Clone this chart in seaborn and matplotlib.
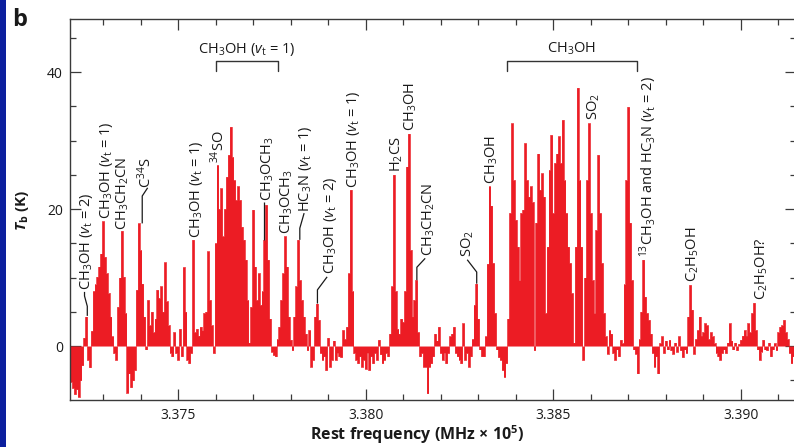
import numpy as np
import pandas as pd
import matplotlib
matplotlib.use("Agg")
import matplotlib.pyplot as plt
from matplotlib.patches import Rectangle
from matplotlib.ticker import MultipleLocator, FormatStrFormatter
import seaborn as sns

# ---------------------------------------------------------------------------
# Spectrum: brightness temperature (K) per channel, channel grid in MHz x 1e5
# ---------------------------------------------------------------------------
freq_start = 3.37210
chan_width = 0.00005

tb_seg_a = [-4.0, -5.2, -6.1, -7.0, -6.3, -7.4, -5.0, -2.8, 1.2, 4.3, -2.0, -3.1, 2.2, 8.0, 9.0, 10.1,
            11.6, 13.5, 18.2, 13.0, 10.6, 7.7, 4.3, 1.4, -1.0, -2.0, 5.7, 10.0, 16.8, 10.1, 4.8, -6.8,
            -4.0, -6.0, -5.0, -3.5, 8.2, 17.9, 14.0, 9.1, 4.3, -0.5, 6.7, 3.0, 5.0, 2.0, 4.0, 8.2,
            7.0, 8.7, 5.0, 12.2, 6.5, 3.0, -1.0, -1.5, 2.0, -1.0, -2.0, 2.5, -1.5, 11.5, 5.0, -2.0]
tb_seg_b = [-2.5, -1.0, 15.5, 2.0, 2.5, 1.5, 2.8, 2.3, 4.8, 5.0, 13.8, 6.7, 3.0, -1.0, 15.0, 26.4,
            20.0, 23.0, 16.0, 20.0, 24.7, 27.9, 32.0, 27.6, 24.2, 21.3, 23.3, 21.3, 17.4, 15.5, 12.6, 6.7,
            0.5, 5.7, 19.9, 11.6, 6.7, 10.6, 6.0, 8.0, 15.5, 20.6, 12.6, 4.0, -0.8, -1.3, -1.5, 1.0,
            2.8, 6.7, 10.6, 16.0, 11.6, 4.3, 0.9, -0.6, 4.3, 8.7, 15.5, 9.6, 6.7, 4.3, 1.8, -0.6]
tb_seg_c = [2.3, -3.0, -2.0, 4.3, 6.2, 3.8, -1.0, -2.0, -1.5, -3.5, 1.2, -3.0, -2.0, 0.8, -2.0, -1.0,
            -1.5, -1.6, 2.3, 1.0, 2.8, 10.6, 22.8, 8.0, -1.0, -2.0, -2.5, -1.5, -3.0, -2.0, -3.3, -1.0,
            -3.5, -1.5, -2.5, -1.0, -2.0, 0.9, -1.2, -2.5, -2.0, -1.0, -1.5, 1.8, 8.7, 25.0, 8.0, 2.5,
            1.8, 4.0, 3.5, 8.0, 26.2, 31.0, 14.0, 4.3, 6.7, 9.6, 2.0, -1.5, -1.0, -3.0, -3.0, -6.9]
tb_seg_d = [-3.0, -2.5, -1.5, 1.8, 0.8, 2.8, -1.0, -2.0, -1.0, -2.5, -1.0, 1.4, 1.8, 2.8, -1.0, -1.5,
            -2.0, -2.5, 3.3, -2.0, -1.0, -3.0, -1.5, 1.0, 6.0, 9.1, 4.0, -0.5, -1.5, -1.5, 1.4, 12.0,
            23.3, 20.5, 12.1, 4.8, -0.5, -1.6, -2.0, -3.5, -4.5, -2.5, 4.0, 19.4, 32.5, 24.2, 18.4, 14.5,
            9.6, 19.4, 19.9, 29.6, 24.2, 21.8, 23.3, 21.0, -0.6, 18.0, 28.1, 22.8, 25.2, 21.8, 4.8, 14.5]
tb_seg_e = [25.7, 30.8, 19.4, 26.7, 28.1, 30.6, 26.7, 33.0, 24.2, 19.4, 14.5, 12.1, 7.7, 0.5, 14.5, 37.7,
            24.2, 14.5, -2.0, 10.0, 24.2, 32.5, 19.4, 9.6, 4.8, 16.9, 27.9, 19.4, 12.1, 4.8, 1.4, -1.1,
            2.3, 1.8, -1.0, -2.0, -0.5, -1.5, 0.9, 0.4, 9.0, 24.2, 34.9, 18.0, 9.6, -0.5, -1.1, -4.0,
            1.0, 5.0, 12.6, 7.2, 4.8, 3.8, 1.8, -1.0, -3.0, -1.5, -4.0, 0.4, 1.4, -1.0, 0.8, -0.5]
tb_seg_f = [0.9, -0.6, -1.1, 0.5, -0.8, 1.4, -0.6, -1.6, -0.5, -1.0, 4.3, 8.9, 5.3, -1.1, 1.0, 2.3,
            4.3, 1.5, 2.0, 3.3, 3.0, 1.0, 2.0, 1.4, 0.4, -1.0, -1.5, -2.0, -1.0, -0.5, -1.0, 0.5,
            3.3, 0.8, -0.5, 0.5, -0.6, 0.3, 0.9, 1.5, 2.3, 1.5, 3.3, 2.0, 4.8, 6.3, 2.3, -0.5,
            -2.0, -0.8, 0.9, -0.5, -0.6, 0.5, -1.5, -0.5, 0.4, -0.6, 2.0, 2.8, 3.0, 3.8, 2.0, 1.0,
            -1.0, -2.5, -1.5, -1.0]

# ---------------------------------------------------------------------------
# Line identifications (rotated labels): text, frequency, base height (K)
# ---------------------------------------------------------------------------
line_labels = [r"CH$_3$OH ($v_\mathrm{t}$ = 2)", r"CH$_3$OH ($v_\mathrm{t}$ = 1)", r"CH$_3$CH$_2$CN",
               r"C$^{34}$S", r"CH$_3$OH ($v_\mathrm{t}$ = 1)", r"$^{34}$SO", r"CH$_3$OCH$_3$",
               r"CH$_3$OCH$_3$", r"HC$_3$N ($v_\mathrm{t}$ = 1)", r"CH$_3$OH ($v_\mathrm{t}$ = 2)",
               r"CH$_3$OH ($v_\mathrm{t}$ = 1)", r"H$_2$CS", r"CH$_3$OH", r"CH$_3$CH$_2$CN",
               r"SO$_2$", r"CH$_3$OH", r"SO$_2$",
               r"$^{13}$CH$_3$OH and HC$_3$N ($v_\mathrm{t}$ = 2)", r"C$_2$H$_5$OH", r"C$_2$H$_5$OH?"]
line_label_freq = [3.37256, 3.37308, 3.37352, 3.37415, 3.37548, 3.37607, 3.37740,
                   3.37791, 3.37841, 3.37905, 3.37967, 3.38084, 3.38121, 3.38167,
                   3.38273, 3.38337, 3.38607, 3.38753, 3.38873, 3.39057]
line_label_base = [8.2, 18.5, 17.0, 23.1, 15.8, 26.7, 21.2,
                   16.4, 19.6, 10.5, 23.1, 25.4, 31.4, 13.1,
                   13.0, 23.6, 33.0, 13.0, 9.3, 6.7]

# Leader lines from a peak to its label (frequency / K vertices)
leader_freq = [[3.372581, 3.372581, 3.372507, 3.372507],
               [3.374045, 3.374045, 3.374190],
               [3.377293, 3.377293],
               [3.378245, 3.378245, 3.378360],
               [3.378715, 3.378715, 3.378973],
               [3.381365, 3.381365, 3.381587],
               [3.382960, 3.382960, 3.382707]]
leader_tb = [[4.4, 5.8, 7.3, 7.9],
             [17.9, 21.9, 23.1],
             [15.5, 21.0],
             [15.5, 17.2, 19.4],
             [6.2, 8.2, 10.1],
             [9.6, 11.5, 12.8],
             [9.1, 10.8, 12.6]]

# Bracketed groups of transitions
bracket_labels = [r"CH$_3$OH ($v_\mathrm{t}$ = 1)", r"CH$_3$OH"]
bracket_start = [3.376013, 3.383765]
bracket_end = [3.377675, 3.387232]

RED = "#ec1c24"
INK = "#1a1a1a"

sns.set_theme(style="ticks")
plt.rcParams.update({
    "font.family": ["Open Sans", "DejaVu Sans"],
    "mathtext.fontset": "custom",
    "mathtext.rm": "Open Sans",
    "mathtext.it": "Open Sans:italic",
    "mathtext.bf": "Open Sans:bold",
    "mathtext.bfit": "Open Sans:italic:bold",
    "axes.edgecolor": "#3a3a3a",
    "axes.linewidth": 1.0,
    "xtick.color": "#3a3a3a",
    "ytick.color": "#3a3a3a",
    "xtick.labelcolor": INK,
    "ytick.labelcolor": INK,
})

tb = np.concatenate([tb_seg_a, tb_seg_b, tb_seg_c, tb_seg_d, tb_seg_e, tb_seg_f])
freq = freq_start + chan_width * np.arange(tb.size)
spec = pd.DataFrame({"freq": freq, "tb": tb})

fig = plt.figure(figsize=(7.94, 4.47), dpi=100)
ax = fig.add_axes([70 / 794, 1 - 400 / 447, 726 / 794, 381 / 447])

# channel spectrum: stepped outline plus filled area down to zero
sns.lineplot(data=spec, x="freq", y="tb", drawstyle="steps-mid", color=RED,
             lw=0.5, ax=ax, estimator=None, sort=False)
ax.fill_between(spec["freq"], 0, spec["tb"], step="mid", color=RED, lw=0)

ax.set_xlim(3.37212, 3.39147)
ax.set_ylim(-7.88, 47.74)

ax.xaxis.set_major_locator(MultipleLocator(0.005))
ax.xaxis.set_minor_locator(MultipleLocator(0.001))
ax.xaxis.set_major_formatter(FormatStrFormatter("%.3f"))
ax.yaxis.set_major_locator(MultipleLocator(20))
ax.yaxis.set_minor_locator(MultipleLocator(5))
ax.tick_params(which="both", direction="in", top=True, right=True, width=0.9, labelsize=10)
ax.tick_params(which="major", length=8)
ax.tick_params(which="minor", length=4.3)
ax.tick_params(axis="x", pad=6)
ax.tick_params(axis="y", pad=5)

ax.set_xlabel("Rest frequency (MHz \u00d7 10$^{\\mathbf{5}}$)", fontsize=11.5,
              fontweight="bold", color=INK, va="center")
ax.xaxis.set_label_coords((417 - 70) / 726, -(435 - 400) / 381)
ax.set_ylabel(r"$\mathbfit{T}_{\mathbf{b}}$ (K)", fontsize=11, fontweight="bold", color=INK,
              va="center")
ax.yaxis.set_label_coords((23 - 70) / 726, (400 - 210) / 381)

# rotated line identifications
for text, f, base in zip(line_labels, line_label_freq, line_label_base):
    ax.text(f, base, text, rotation=90, ha="center", va="bottom",
            fontsize=10.5, color=INK)

for fx, ty in zip(leader_freq, leader_tb):
    ax.plot(fx, ty, color=INK, lw=0.9, solid_capstyle="butt")

# brackets over groups of lines
for text, f0, f1 in zip(bracket_labels, bracket_start, bracket_end):
    ax.plot([f0, f0, f1, f1], [40.1, 41.6, 41.6, 40.1], color="#333333", lw=1.0)
    ax.text((f0 + f1) / 2, 42.77, text, ha="center", va="baseline",
            fontsize=10.5, color=INK)

# panel letter and side strip
fig.text(12 / 794, 1 - 20 / 447, "b", fontsize=17, fontweight="bold",
         ha="left", va="center", color=INK)
fig.patches.append(Rectangle((0, 0), 6 / 794, 1, transform=fig.transFigure,
                             facecolor="#0c1f9e", edgecolor="none"))

fig.savefig("out.png", dpi=100)
